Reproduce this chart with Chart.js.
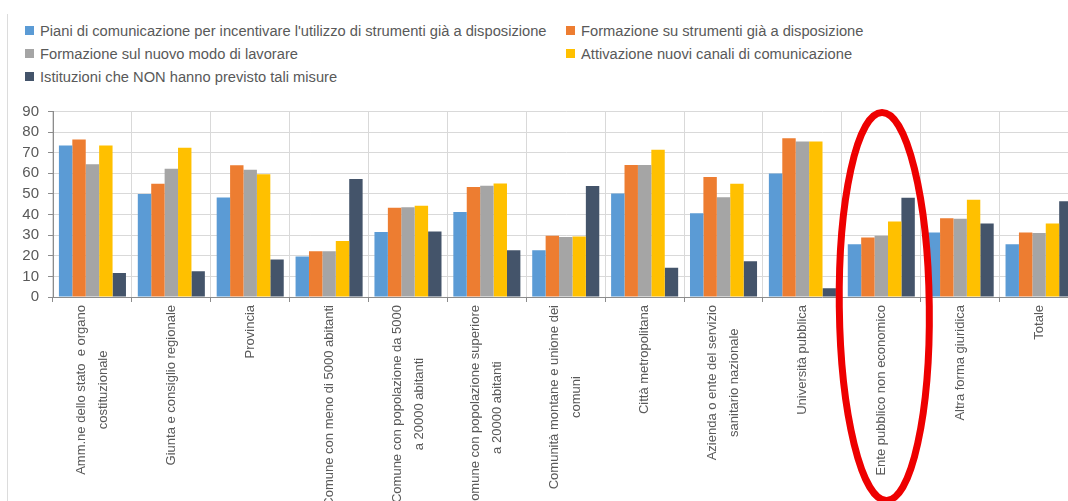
<!DOCTYPE html>
<html lang="it">
<head>
    <meta charset="UTF-8">
    <title>Misure adottate per forma giuridica</title>
    <script src="https://cdn.jsdelivr.net/npm/chart.js"></script>
    <style>
        html, body {
            margin: 0;
            padding: 0;
            width: 1068px;
            height: 501px;
            overflow: hidden;
            background: #fff;
            font-family: "Liberation Sans", Arial, sans-serif;
        }
        .frame {
            position: absolute;
            left: 7px;
            top: 14px;
            bottom: 0;
            border-left: 1px solid #dcdcdc;
        }
        #legend {
            position: absolute;
            left: 25px;
            top: 19px;
            display: grid;
            grid-template-columns: 541px auto;
            grid-auto-rows: 23px;
            font-size: 14.7px;
            color: #595959;
        }
        #legend div {
            display: flex;
            align-items: center;
            white-space: nowrap;
        }
        #legend span {
            display: inline-block;
            width: 9px;
            height: 9px;
            margin-right: 6px;
        }
        .chart-box {
            position: absolute;
            left: 0;
            top: 95px;
            width: 1080px;
            height: 420px;
        }
    </style>
</head>
<body>
    <div class="frame"></div>
    <div id="legend"></div>
    <div class="chart-box">
        <canvas id="misureChart" width="1080" height="420"></canvas>
    </div>

    <script>
        const categories = [
            ['Amm.ne dello stato  e organo', 'costituzionale'],
            'Giunta e consiglio regionale',
            'Provincia',
            'Comune con meno di 5000 abitanti',
            ['Comune con popolazione da 5000', 'a 20000 abitanti'],
            ['Comune con popolazione superiore', 'a 20000 abitanti'],
            ['Comunità montane e unione dei', 'comuni'],
            'Città metropolitana',
            ['Azienda o ente del servizio', 'sanitario nazionale'],
            'Università pubblica',
            'Ente pubblico non economico',
            'Altra forma giuridica',
            'Totale'
        ];
        const seriesNames = [
            "Piani di comunicazione per incentivare l'utilizzo di strumenti già a disposizione",
            'Formazione su strumenti già a disposizione',
            'Formazione sul nuovo modo di lavorare',
            'Attivazione nuovi canali di comunicazione',
            'Istituzioni che NON hanno previsto tali misure'
        ];
        const pianiComunicazione = [73.5, 50.0, 48.3, 19.7, 31.5, 41.2, 22.7, 50.2, 40.6, 59.9, 25.6, 31.3, 25.6];
        const formazioneStrumenti = [76.4, 55.0, 63.9, 22.2, 43.3, 53.4, 29.7, 64.1, 58.2, 77.0, 28.9, 38.2, 31.3];
        const formazioneNuovoModo = [64.4, 62.2, 61.7, 22.2, 43.6, 54.0, 29.1, 64.1, 48.4, 75.4, 29.7, 38.0, 31.0];
        const nuoviCanali = [73.5, 72.4, 59.5, 27.2, 44.3, 55.1, 29.3, 71.5, 55.0, 75.4, 36.6, 47.2, 35.6];
        const nessunaMisura = [11.7, 12.5, 18.2, 57.2, 31.8, 22.7, 53.9, 14.2, 17.3, 4.3, 48.1, 35.6, 46.5];
        const yTicks = [0, 10, 20, 30, 40, 50, 60, 70, 80, 90];
        const highlighted = 'Ente pubblico non economico';

        const colors = ['#5b9bd5', '#ed7d31', '#a5a5a5', '#ffc000', '#44546a'];
        const values = [pianiComunicazione, formazioneStrumenti, formazioneNuovoModo, nuoviCanali, nessunaMisura];

        const datasets = seriesNames.map((name, i) => ({
            label: name,
            data: values[i],
            backgroundColor: colors[i],
            borderWidth: 0,
            categoryPercentage: 0.85,
            barPercentage: 1.0
        }));

        // html legend, two columns like the original
        const legend = document.getElementById('legend');
        datasets.forEach(ds => {
            const item = document.createElement('div');
            item.innerHTML = `<span style="background:${ds.backgroundColor}"></span>${ds.label}`;
            legend.appendChild(item);
        });

        // multi-line x labels: lines centred on each other and on the tick
        const centerLabels = {
            id: 'centerLabels',
            beforeDraw(chart) {
                const scale = chart.scales.x;
                const items = scale.getLabelItems(chart.chartArea);
                const ctx = chart.ctx;
                ctx.save();
                items.forEach(item => {
                    if (item._centered) return;
                    const lines = Array.isArray(item.label) ? item.label : [item.label];
                    ctx.font = item.font.string;
                    const maxW = Math.max(...lines.map(l => ctx.measureText(l).width));
                    item.options.textAlign = 'center';
                    item.options.translation[0] -= (lines.length - 1) * item.font.lineHeight / 2;
                    item.options.translation[1] += maxW / 2;
                    item._centered = true;
                });
                ctx.restore();
            }
        };

        // red ellipse drawn around the highlighted category
        const ellipseMark = {
            id: 'ellipseMark',
            afterDraw(chart) {
                const x = chart.scales.x.getPixelForValue(categories.indexOf(highlighted)) + 3;
                const top = chart.scales.y.getPixelForValue(90) + 1;
                const ry = 194;
                const ctx = chart.ctx;
                ctx.save();
                ctx.strokeStyle = '#ee0000';
                ctx.lineWidth = 7;
                ctx.beginPath();
                ctx.ellipse(x, top + ry, 45, ry, -0.012, 0, Math.PI * 2);
                ctx.stroke();
                ctx.restore();
            }
        };

        const ctx = document.getElementById('misureChart').getContext('2d');
        new Chart(ctx, {
            type: 'bar',
            data: {
                labels: categories,
                datasets: datasets
            },
            plugins: [centerLabels, ellipseMark],
            options: {
                responsive: false,
                animation: false,
                layout: {
                    padding: { top: 14, right: 1.5, bottom: 0, left: 0 }
                },
                plugins: {
                    legend: { display: false },
                    tooltip: { enabled: false }
                },
                scales: {
                    x: {
                        grid: {
                            color: '#d9d9d9',
                            tickColor: '#8c8c8c',
                            tickLength: 5,
                            offset: true
                        },
                        border: { color: '#8c8c8c' },
                        ticks: {
                            autoSkip: false,
                            maxRotation: 90,
                            minRotation: 90,
                            padding: 3,
                            color: '#595959',
                            font: { family: '"Liberation Sans", Arial, sans-serif', size: 13, lineHeight: '22px' }
                        },
                        afterFit(scale) {
                            scale.height = 218;
                        }
                    },
                    y: {
                        min: 0,
                        max: 90,
                        afterBuildTicks(scale) {
                            scale.ticks = yTicks.map(v => ({ value: v }));
                        },
                        grid: {
                            color: '#d9d9d9',
                            tickColor: '#8c8c8c',
                            tickLength: 5
                        },
                        border: { color: '#8c8c8c' },
                        ticks: {
                            autoSkip: false,
                            padding: 9,
                            color: '#595959',
                            font: { family: '"Liberation Sans", Arial, sans-serif', size: 15, lineHeight: 1 }
                        },
                        afterFit(scale) {
                            scale.width = 53;
                        }
                    }
                }
            }
        });
    </script>
</body>
</html>
